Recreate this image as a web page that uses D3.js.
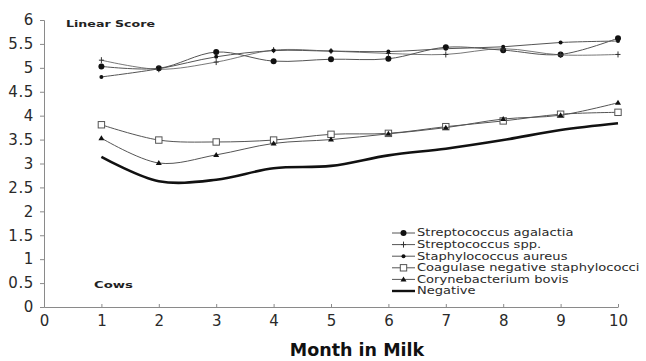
<!DOCTYPE html>
<html>
<head>
<meta charset="utf-8">
<script src="https://cdn.jsdelivr.net/npm/d3@7"></script>
<style>
  body { margin: 0; background: #fff; }
  svg { display: block; }
</style>
</head>
<body>
<div id="chart"></div>
<script>
// months in milk
let months = [1, 2, 3, 4, 5, 6, 7, 8, 9, 10];
// linear score per series
let strepAgalactia = [5.03, 4.99, 5.33, 5.14, 5.18, 5.19, 5.43, 5.37, 5.28, 5.62];
let strepSpp = [5.16, 4.97, 5.12, 5.37, 5.35, 5.30, 5.28, 5.40, 5.27, 5.28];
let staphAureus = [4.81, 4.98, 5.23, 5.36, 5.35, 5.34, 5.40, 5.44, 5.53, 5.56];
let cns = [3.81, 3.49, 3.45, 3.49, 3.61, 3.63, 3.77, 3.89, 4.03, 4.07];
let coryneBovis = [3.53, 3.01, 3.18, 3.42, 3.50, 3.62, 3.75, 3.93, 4.01, 4.27];
let negative = [3.14, 2.63, 2.66, 2.90, 2.95, 3.17, 3.31, 3.49, 3.70, 3.84];
let yTicks = [0, 0.5, 1, 1.5, 2, 2.5, 3, 3.5, 4, 4.5, 5, 5.5, 6];
let xTicks = [0, 1, 2, 3, 4, 5, 6, 7, 8, 9, 10];

let seriesList = [
    {name: "Streptococcus agalactia", values: strepAgalactia, marker: "circle", width: 1},
    {name: "Streptococcus spp.", values: strepSpp, marker: "plus", width: 0.8},
    {name: "Staphylococcus aureus", values: staphAureus, marker: "dot", width: 1},
    {name: "Coagulase negative staphylococci", values: cns, marker: "square", width: 1},
    {name: "Corynebacterium bovis", values: coryneBovis, marker: "triangle", width: 1},
    {name: "Negative", values: negative, marker: "none", width: 2.6}
];

let width = 646, height = 361;
let margin = {left: 44, top: 20, right: 28, bottom: 54};

let svg = d3.select("#chart").append("svg").attr("width", width).attr("height", height);

let x = d3.scaleLinear().domain([0, 10]).range([margin.left, 618]);
let y = d3.scaleLinear().domain([0, 6]).range([307, margin.top]);

let axisColor = "#8a8a8a";
let textColor = "#2a2a2a";

//Y axis
let yAxis = svg.append("g").attr("transform", `translate(${x(0)}, 0)`)
    .call(d3.axisLeft(y).tickValues(yTicks).tickSize(4).tickPadding(5).tickFormat(d3.format("")));
yAxis.select(".domain").attr("stroke", axisColor);
yAxis.selectAll(".tick line").attr("stroke", axisColor);
yAxis.selectAll(".tick text").attr("fill", textColor)
    .attr("style", "font: 15px 'DejaVu Sans', sans-serif; letter-spacing: 0.6px").attr("dx", -1);

//X axis
let xAxis = svg.append("g").attr("transform", `translate(0, ${y(0)})`)
    .call(d3.axisBottom(x).tickValues(xTicks).tickSizeInner(-3).tickSizeOuter(0).tickPadding(8));
xAxis.select(".domain").attr("stroke", axisColor);
xAxis.selectAll(".tick line").attr("stroke", axisColor);
xAxis.selectAll(".tick text").attr("fill", textColor)
    .attr("style", "font: 15px 'DejaVu Sans', sans-serif");

//Axis titles and notes
svg.append("text").text("Month in Milk").attr("x", 357).attr("y", 356)
    .attr("text-anchor", "middle").attr("fill", "#111")
    .attr("style", "font: bold 17.5px 'DejaVu Sans', sans-serif");
svg.append("text").text("Linear Score").attr("x", 66).attr("y", 27)
    .attr("textLength", 89).attr("lengthAdjust", "spacingAndGlyphs").attr("fill", "#222")
    .attr("style", "font: bold 9.5px 'DejaVu Sans', sans-serif");
svg.append("text").text("Cows").attr("x", 94).attr("y", 288)
    .attr("textLength", 39).attr("lengthAdjust", "spacingAndGlyphs").attr("fill", "#222")
    .attr("style", "font: bold 9.5px 'DejaVu Sans', sans-serif");

let line = d3.line().x((d, i) => x(months[i])).y(d => y(d)).curve(d3.curveCatmullRom.alpha(0.5));

function drawMarker(g, type, cx, cy) {
    if (type === "circle") {
        g.append("circle").attr("cx", cx).attr("cy", cy).attr("r", 3).attr("fill", "#111");
    } else if (type === "dot") {
        g.append("circle").attr("cx", cx).attr("cy", cy).attr("r", 2).attr("fill", "#111");
    } else if (type === "plus") {
        g.append("path").attr("d", `M${cx - 2.5},${cy}H${cx + 2.5}M${cx},${cy - 3}V${cy + 3}`)
            .attr("stroke", "#333").attr("stroke-width", 1);
    } else if (type === "square") {
        g.append("rect").attr("x", cx - 3.2).attr("y", cy - 3.2).attr("width", 6.4).attr("height", 6.4)
            .attr("fill", "#fff").attr("stroke", "#555").attr("stroke-width", 1);
    } else if (type === "triangle") {
        g.append("path").attr("d", `M${cx},${cy - 3}L${cx + 3},${cy + 2}L${cx - 3},${cy + 2}Z`)
            .attr("fill", "#111");
    }
}

let plotGroup = svg.append("g");
seriesList.forEach(s => {
    let g = plotGroup.append("g");
    g.append("path").datum(s.values).attr("d", line).attr("fill", "none")
        .attr("stroke", s.marker === "none" ? "#111" : "#555").attr("stroke-width", s.width);
    s.values.forEach((v, i) => drawMarker(g, s.marker, x(months[i]), y(v)));
});

//Legend - text in the source is stretched wide, so widen each label by the same factor
let legend = svg.append("g").attr("transform", "translate(392, 233)");
seriesList.forEach((s, i) => {
    let row = legend.append("g").attr("transform", `translate(0, ${i * 11.6})`);
    row.append("line").attr("x1", 0).attr("x2", 23).attr("y1", 0).attr("y2", 0)
        .attr("stroke", s.marker === "none" ? "#111" : "#555").attr("stroke-width", s.marker === "none" ? 2.4 : 1);
    drawMarker(row, s.marker, 11.5, 0);
    let t = row.append("text").text(s.name).attr("x", 25).attr("y", 0).attr("dy", "0.35em")
        .attr("fill", textColor).attr("style", "font: 9.6px 'DejaVu Sans', sans-serif");
    let natural = t.node().getComputedTextLength();
    t.attr("textLength", natural * 1.36).attr("lengthAdjust", "spacingAndGlyphs");
});
</script>
</body>
</html>
